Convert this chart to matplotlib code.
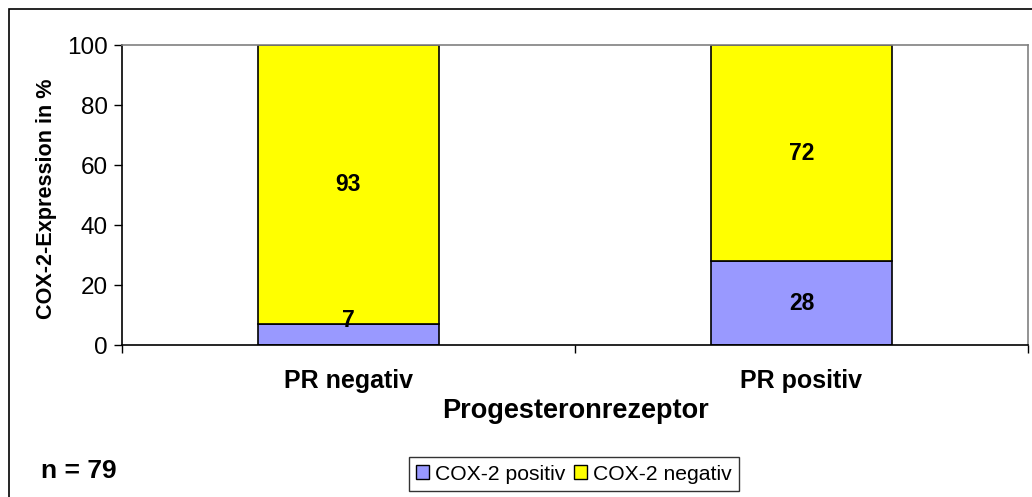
import matplotlib.pyplot as plt
from matplotlib.patches import Rectangle

plt.rcParams['font.family'] = ['Liberation Sans', 'DejaVu Sans']

categories = ['PR negativ', 'PR positiv']
cox_positiv = [7, 28]
cox_negativ = [93, 72]
y_ticks = [0, 20, 40, 60, 80, 100]

fig = plt.figure(figsize=(10.32, 4.97), dpi=100)
# outer chart border
fig.patches.append(Rectangle((9 / 1032, -0.1), 1.2, (497 - 9) / 497 + 0.1,
                             transform=fig.transFigure, fill=False,
                             edgecolor='black', linewidth=1.2))

ax = fig.add_axes([122 / 1032, 1 - 345 / 497, (1028 - 122) / 1032, 300 / 497])

x = range(len(categories))
ax.bar(x, cox_positiv, width=0.4, color='#9999ff', edgecolor='black',
       linewidth=1.2, label='COX-2 positiv')
ax.bar(x, cox_negativ, width=0.4, bottom=cox_positiv, color='#ffff00',
       edgecolor='black', linewidth=1.2, label='COX-2 negativ')

for i in x:
    pos, neg = cox_positiv[i], cox_negativ[i]
    ax.text(i, max(pos / 2, 8.3), str(pos), ha='center', va='center',
            fontsize=16.5, fontweight='bold')
    ax.text(i, pos + neg / 2, str(neg), ha='center', va='center',
            fontsize=16.5, fontweight='bold')

ax.set_xlim(-0.5, 1.5)
ax.set_ylim(0, 100)
ax.set_yticks(y_ticks)
ax.set_yticklabels([str(t) for t in y_ticks], fontsize=17.5)
ax.set_xticks([-0.5, 0.5, 1.5], minor=False)
ax.set_xticklabels([])
ax.set_xticks(list(x), minor=True)
ax.set_xticklabels(categories, minor=True, fontsize=18, fontweight='bold')
ax.tick_params(axis='x', which='minor', length=0, pad=17)
ax.tick_params(axis='x', which='major', length=6, width=1, direction='out')
ax.tick_params(axis='y', length=6, width=1, direction='out', pad=4)

ax.spines['left'].set_color('black')
ax.spines['bottom'].set_color('black')
ax.spines['top'].set_color('#808080')
ax.spines['right'].set_color('#808080')
for s in ax.spines.values():
    s.set_linewidth(1.2)

ax.set_xlabel('Progesteronrezeptor', fontsize=19.5, fontweight='bold', labelpad=4)
ax.set_ylabel('COX-2-Expression in %', fontsize=15.6, fontweight='bold')
ax.yaxis.set_label_coords(-0.0717, 0.487)

fig.text(41 / 1032, 1 - 471 / 497, 'n = 79', fontsize=19, fontweight='bold',
         va='center', ha='left')

leg = fig.legend(loc='center', bbox_to_anchor=(574 / 1032, 1 - 474 / 497), ncol=2,
                 fontsize=15.2, frameon=True, fancybox=False, edgecolor='black',
                 handlelength=0.6, handleheight=0.6, handletextpad=0.3,
                 columnspacing=0.4, borderpad=0.35)
leg.get_frame().set_linewidth(1)
for h in leg.legend_handles:
    h.set_linewidth(1)

fig.savefig('out.png', dpi=100)
